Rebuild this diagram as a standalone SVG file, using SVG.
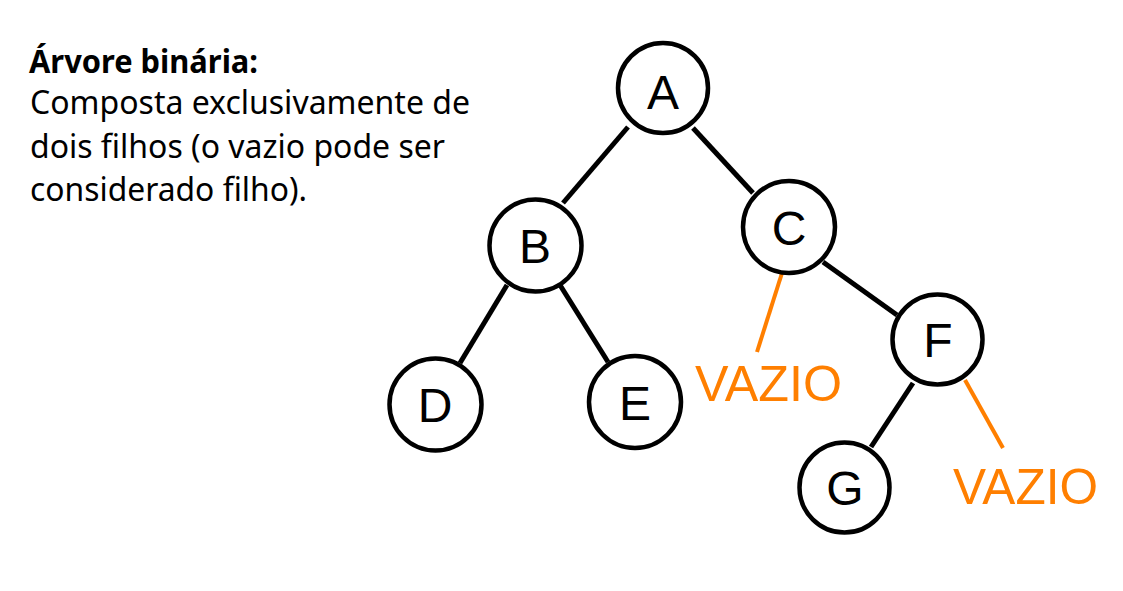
<svg xmlns="http://www.w3.org/2000/svg" width="1123" height="591" viewBox="0 0 1123 591">
<style>
.n{fill:#fff;stroke:#000;stroke-width:4.5}
.l{font-family:"Liberation Sans",Arial,sans-serif;font-size:48px;fill:#000;text-anchor:middle}
.e{stroke:#000;stroke-width:5;stroke-linecap:butt}
.o{stroke:#FF7F00;stroke-width:4}
.v{font-family:"Liberation Sans",Arial,sans-serif;font-size:50px;fill:#FF7F00}
.t{font-family:"Noto Sans","Open Sans",sans-serif;font-size:32px;fill:#000}
</style>
<rect width="1123" height="591" fill="#fff"/>
<g id="caption">
<text class="t" x="29" y="73" font-weight="bold" textLength="229" lengthAdjust="spacingAndGlyphs">Árvore binária:</text>
<text class="t" x="30" y="114" textLength="440" lengthAdjust="spacingAndGlyphs">Composta exclusivamente de</text>
<text class="t" x="30" y="158" textLength="415" lengthAdjust="spacingAndGlyphs">dois filhos (o vazio pode ser</text>
<text class="t" x="30" y="201" textLength="277" lengthAdjust="spacingAndGlyphs">considerado filho).</text>
</g>
<g id="connectors">
<line class="e" x1="628" y1="127" x2="563" y2="203" stroke-width="6.5"/>
<line class="e" x1="693" y1="128" x2="753" y2="193"/>
<line class="e" x1="507" y1="285" x2="460" y2="363"/>
<line class="e" x1="560" y1="285" x2="608" y2="362"/>
<line class="e" x1="823" y1="262" x2="897" y2="315"/>
<line class="e" x1="913" y1="383" x2="871" y2="447"/>
<line class="o" x1="782" y1="273" x2="757" y2="352"/>
<line class="o" x1="965" y1="380" x2="1003" y2="448"/>
</g>
<g id="A"><circle class="n" cx="663" cy="88" r="45"/><text class="l" x="663" y="109">A</text></g>
<g id="B"><circle class="n" cx="535.5" cy="245.5" r="46"/><text class="l" x="535" y="263">B</text></g>
<g id="C"><circle class="n" cx="789" cy="227" r="46"/><text class="l" x="789" y="245">C</text></g>
<g id="D"><circle class="n" cx="435.5" cy="404.5" r="46"/><text class="l" x="435" y="422">D</text></g>
<g id="E"><circle class="n" cx="635" cy="402" r="46"/><text class="l" x="635" y="420">E</text></g>
<g id="F"><circle class="n" cx="937.5" cy="339.5" r="45"/><text class="l" x="938" y="357">F</text></g>
<g id="G"><circle class="n" cx="844.5" cy="487.5" r="45"/><text class="l" x="845" y="505">G</text></g>
<g id="vazio1"><text class="v" x="695" y="401" textLength="147" lengthAdjust="spacingAndGlyphs">VAZIO</text></g>
<g id="vazio2"><text class="v" x="953" y="504" textLength="145" lengthAdjust="spacingAndGlyphs">VAZIO</text></g>
</svg>
